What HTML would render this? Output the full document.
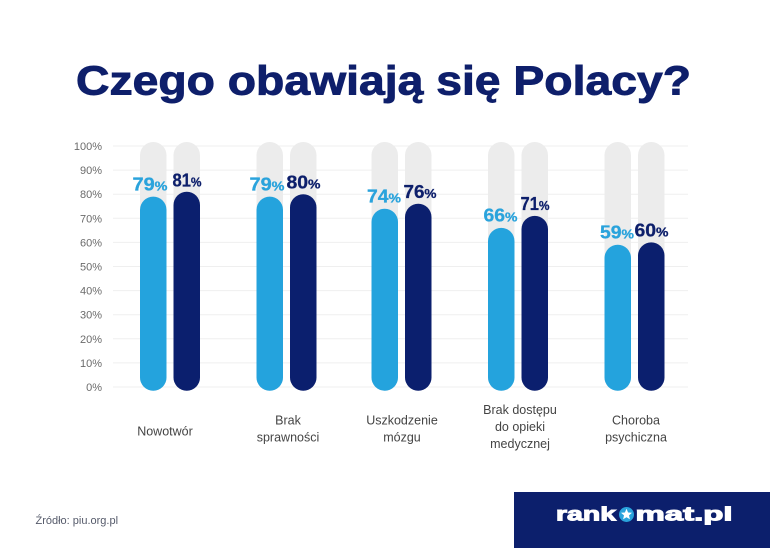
<!DOCTYPE html>
<html>
<head>
<meta charset="utf-8">
<style>
  html,body{margin:0;padding:0;background:#fff;}
  svg{display:block;}
  text{font-family:"Liberation Sans",sans-serif;}
</style>
</head>
<body>
<svg width="770" height="548" viewBox="0 0 770 548" xmlns="http://www.w3.org/2000/svg">
  <rect width="770" height="548" fill="#ffffff"/>
  <!-- Title -->
  <text x="76" y="94.5" font-size="41" font-weight="bold" fill="#0e1f6b" stroke="#0e1f6b" stroke-width="0.9" textLength="615" lengthAdjust="spacingAndGlyphs">Czego obawiają się Polacy?</text>

  <!-- Gridlines -->
  <g stroke="#efefef" stroke-width="1">
    <line x1="113" y1="146" x2="688" y2="146"/>
    <line x1="113" y1="170.1" x2="688" y2="170.1"/>
    <line x1="113" y1="194.2" x2="688" y2="194.2"/>
    <line x1="113" y1="218.3" x2="688" y2="218.3"/>
    <line x1="113" y1="242.4" x2="688" y2="242.4"/>
    <line x1="113" y1="266.5" x2="688" y2="266.5"/>
    <line x1="113" y1="290.6" x2="688" y2="290.6"/>
    <line x1="113" y1="314.7" x2="688" y2="314.7"/>
    <line x1="113" y1="338.8" x2="688" y2="338.8"/>
    <line x1="113" y1="362.9" x2="688" y2="362.9"/>
    <line x1="113" y1="387" x2="688" y2="387"/>
  </g>

  <!-- Y labels -->
  <g font-size="11" fill="#6b6b6b" text-anchor="end">
    <text x="102" y="150">100%</text>
    <text x="102" y="174.1">90%</text>
    <text x="102" y="198.2">80%</text>
    <text x="102" y="222.3">70%</text>
    <text x="102" y="246.4">60%</text>
    <text x="102" y="270.5">50%</text>
    <text x="102" y="294.6">40%</text>
    <text x="102" y="318.7">30%</text>
    <text x="102" y="342.8">20%</text>
    <text x="102" y="366.9">10%</text>
    <text x="102" y="391">0%</text>
  </g>

  <!-- Grey tracks -->
  <g fill="#ececec">
    <rect x="140" y="142" width="26.5" height="248.7" rx="13.25"/>
    <rect x="173.5" y="142" width="26.5" height="248.7" rx="13.25"/>
    <rect x="256.5" y="142" width="26.5" height="248.7" rx="13.25"/>
    <rect x="290" y="142" width="26.5" height="248.7" rx="13.25"/>
    <rect x="371.5" y="142" width="26.5" height="248.7" rx="13.25"/>
    <rect x="405" y="142" width="26.5" height="248.7" rx="13.25"/>
    <rect x="488" y="142" width="26.5" height="248.7" rx="13.25"/>
    <rect x="521.5" y="142" width="26.5" height="248.7" rx="13.25"/>
    <rect x="604.5" y="142" width="26.5" height="248.7" rx="13.25"/>
    <rect x="638" y="142" width="26.5" height="248.7" rx="13.25"/>
  </g>

  <!-- Light bars -->
  <g fill="#24a3dd">
    <rect x="140" y="196.6" width="26.5" height="194.1" rx="13.25"/>
    <rect x="256.5" y="196.6" width="26.5" height="194.1" rx="13.25"/>
    <rect x="371.5" y="208.7" width="26.5" height="182" rx="13.25"/>
    <rect x="488" y="227.9" width="26.5" height="162.8" rx="13.25"/>
    <rect x="604.5" y="244.8" width="26.5" height="145.9" rx="13.25"/>
  </g>
  <!-- Dark bars -->
  <g fill="#0b1f6e">
    <rect x="173.5" y="191.8" width="26.5" height="198.9" rx="13.25"/>
    <rect x="290" y="194.2" width="26.5" height="196.5" rx="13.25"/>
    <rect x="405" y="203.8" width="26.5" height="186.9" rx="13.25"/>
    <rect x="521.5" y="215.9" width="26.5" height="174.8" rx="13.25"/>
    <rect x="638" y="242.4" width="26.5" height="148.3" rx="13.25"/>
  </g>

  <!-- Value labels -->
  <g font-weight="bold" text-anchor="middle">
    <g fill="#2aa3dc" stroke="#2aa3dc" stroke-width="0.3">
      <text x="150" y="190.3" font-size="18" textLength="35" lengthAdjust="spacingAndGlyphs">79<tspan font-size="13">%</tspan></text>
      <text x="267" y="190.3" font-size="18" textLength="35" lengthAdjust="spacingAndGlyphs">79<tspan font-size="13">%</tspan></text>
      <text x="384" y="202.5" font-size="18" textLength="34" lengthAdjust="spacingAndGlyphs">74<tspan font-size="13">%</tspan></text>
      <text x="500.5" y="221.6" font-size="18" textLength="34" lengthAdjust="spacingAndGlyphs">66<tspan font-size="13">%</tspan></text>
      <text x="617" y="238.6" font-size="18" textLength="34" lengthAdjust="spacingAndGlyphs">59<tspan font-size="13">%</tspan></text>
    </g>
    <g fill="#0d1f6b" stroke="#0d1f6b" stroke-width="0.3">
      <text x="187" y="186.7" font-size="18" textLength="29" lengthAdjust="spacingAndGlyphs">81<tspan font-size="13">%</tspan></text>
      <text x="303.5" y="188.5" font-size="18" textLength="34" lengthAdjust="spacingAndGlyphs">80<tspan font-size="13">%</tspan></text>
      <text x="420" y="198" font-size="18" textLength="33" lengthAdjust="spacingAndGlyphs">76<tspan font-size="13">%</tspan></text>
      <text x="535" y="210.2" font-size="18" textLength="29" lengthAdjust="spacingAndGlyphs">71<tspan font-size="13">%</tspan></text>
      <text x="651.5" y="236.6" font-size="18" textLength="34" lengthAdjust="spacingAndGlyphs">60<tspan font-size="13">%</tspan></text>
    </g>
  </g>

  <!-- Category labels -->
  <g font-size="12.5" fill="#444444" text-anchor="middle">
    <text x="165" y="435.5">Nowotwór</text>
    <text x="288" y="424.5">Brak</text>
    <text x="288" y="441.5">sprawności</text>
    <text x="402" y="424.5">Uszkodzenie</text>
    <text x="402" y="441.5">mózgu</text>
    <text x="520" y="414">Brak dostępu</text>
    <text x="520" y="431">do opieki</text>
    <text x="520" y="448">medycznej</text>
    <text x="636" y="424.5">Choroba</text>
    <text x="636" y="441.5">psychiczna</text>
  </g>

  <!-- Source -->
  <text x="35.5" y="524" font-size="11" fill="#555a6a">Źródło: piu.org.pl</text>

  <!-- Logo -->
  <rect x="514" y="492" width="256" height="56" fill="#0c1f6c"/>
  <text x="556" y="520.5" font-size="19" font-weight="bold" fill="#ffffff" stroke="#ffffff" stroke-width="1" textLength="60" lengthAdjust="spacingAndGlyphs">rank</text>
  <circle cx="626.5" cy="514.5" r="7.5" fill="#2aa3dc"/>
  <polygon fill="#ffffff" points="626.5,508.8 628.1,512.5 632,512.8 629,515.4 629.9,519.3 626.5,517.2 623.1,519.3 624,515.4 621,512.8 624.9,512.5"/>
  <text x="635.5" y="520.5" font-size="19" font-weight="bold" fill="#ffffff" stroke="#ffffff" stroke-width="1" textLength="97" lengthAdjust="spacingAndGlyphs">mat.pl</text>
</svg>
</body>
</html>
